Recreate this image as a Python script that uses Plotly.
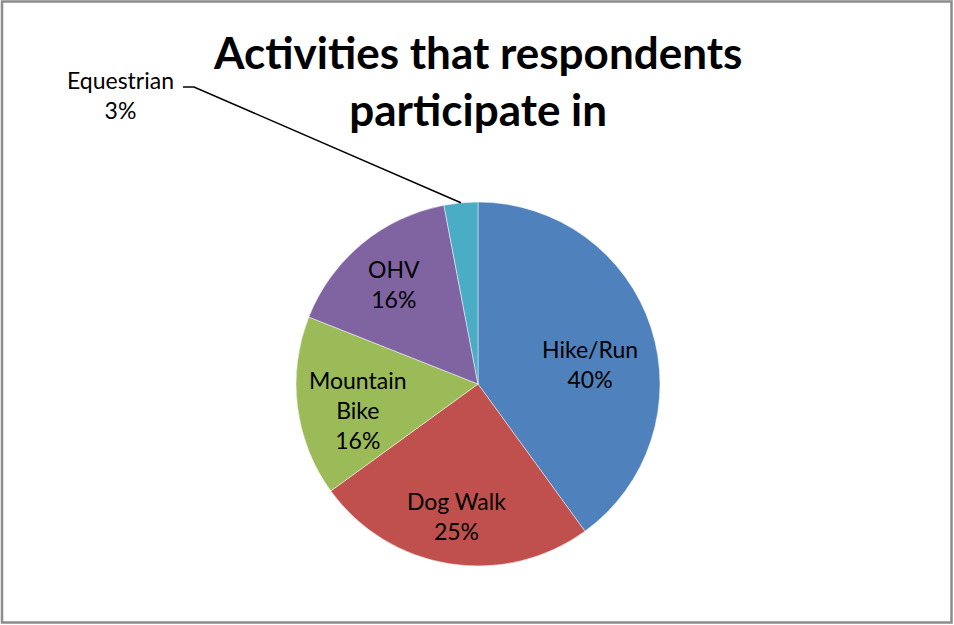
import math
import plotly.graph_objects as go

categories = ["Hike/Run", "Dog Walk", "Mountain Bike", "OHV", "Equestrian"]
display_names = ["Hike/Run", "Dog Walk", "Mountain<br>Bike", "OHV", "Equestrian"]
values = [40, 25, 16, 16, 3]
colors = ["#4F81BD", "#C0504D", "#9BBB59", "#8064A2", "#4BACC6"]
title_text = "Activities that respondents<br>participate in"

W, H = 954, 625
# pie domain in paper coords (margins are zero, so paper == figure)
dom_x = [296 / W, 660 / W]
dom_y = [1 - 566 / H, 1 - 202 / H]

FONT = "Lato, 'Open Sans', sans-serif"
LABEL_SIZE = 23
# small pixel nudges for the inside labels (Excel "best fit" placement)
label_nudge = {0: (-6, -18), 1: (-2, -10), 2: (3, -10), 3: (-5, 5)}

fig = go.Figure()
fig.add_trace(go.Pie(
    labels=categories,
    values=values,
    textinfo="none",
    marker=dict(colors=colors, line=dict(color="rgba(255,255,255,0.6)", width=0.8)),
    sort=False,
    direction="clockwise",
    rotation=0,
    hoverinfo="label+percent",
    domain=dict(x=dom_x, y=dom_y),
    showlegend=False,
))

total = sum(values)
cx = (dom_x[0] + dom_x[1]) / 2
cy = (dom_y[0] + dom_y[1]) / 2
r_px = (dom_x[1] - dom_x[0]) * W / 2


def slice_point(i, rfrac):
    mid_frac = (sum(values[:i]) + values[i] / 2) / total
    ang = 2 * math.pi * mid_frac
    return (cx + rfrac * r_px * math.sin(ang) / W,
            cy + rfrac * r_px * math.cos(ang) / H)


# inside labels for the four large slices
for i in range(4):
    px, py = slice_point(i, 0.68)
    pct = round(values[i] / total * 100)
    dx, dy = label_nudge[i]
    fig.add_annotation(xref="paper", yref="paper", x=px, y=py,
                       xshift=dx, yshift=dy,
                       text=f"{display_names[i]}<br>{pct}%", showarrow=False,
                       font=dict(family=FONT, size=LABEL_SIZE, color="black"),
                       xanchor="center", yanchor="middle", align="center")

# Equestrian outside label with leader line, anchored at its slice's mid-angle edge
edge_x, edge_y = slice_point(4, 1.0)
elbow_x, elbow_y = 194 / W, 1 - 87 / H
start_x = 183 / W
fig.add_shape(type="path", xref="paper", yref="paper",
              path=f"M {start_x} {elbow_y} L {elbow_x} {elbow_y} L {edge_x} {edge_y}",
              line=dict(color="black", width=1.5))
pct = round(values[4] / total * 100)
fig.add_annotation(xref="paper", yref="paper", x=120 / W, y=1 - 95 / H,
                   text=f"{categories[4]}<br>{pct}%", showarrow=False,
                   font=dict(family=FONT, size=LABEL_SIZE, color="black"),
                   xanchor="center", yanchor="middle", align="center")

# title
fig.add_annotation(xref="paper", yref="paper", x=478 / W, y=1 - 80 / H,
                   text=f"<b>{title_text}</b>", showarrow=False,
                   font=dict(family=FONT, size=44, color="black"),
                   xanchor="center", yanchor="middle", align="center")

# chart border
fig.add_shape(type="rect", xref="paper", yref="paper", x0=2 / W, y0=1 - 622.5 / H, x1=951.5 / W, y1=1 - 1.5 / H,
              line=dict(color="#8C8C8C", width=2.5))

fig.update_layout(width=W, height=H, margin=dict(l=0, r=0, t=0, b=0),
                  paper_bgcolor="white", plot_bgcolor="white")
fig.write_html("out.html", config={"displayModeBar": False},
               post_script="document.body.style.margin='0px';")
